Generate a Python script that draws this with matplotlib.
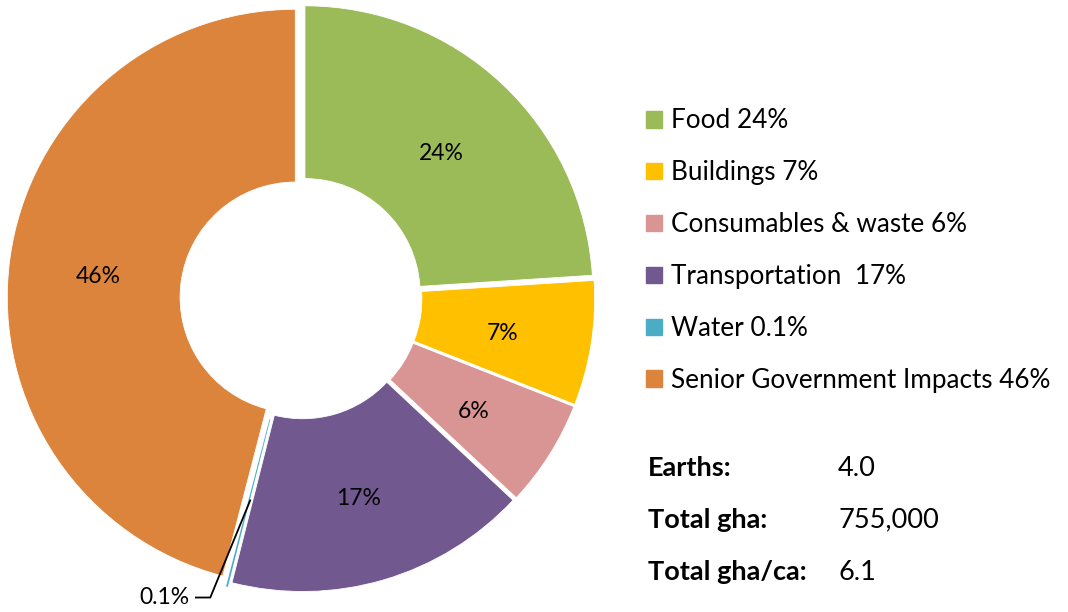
import matplotlib.pyplot as plt
import numpy as np

plt.rcParams["font.family"] = ["Lato", "DejaVu Sans"]

categories = ["Food", "Buildings", "Consumables & waste", "Transportation",
              "Water", "Senior Government Impacts"]
shares = [24, 7, 6, 17, 0.1, 46]
legend_labels = ["Food 24%", "Buildings 7%", "Consumables & waste 6%",
                 "Transportation  17%", "Water 0.1%",
                 "Senior Government Impacts 46%"]
colors = ["#9BBB59", "#FFC000", "#D99594", "#71588F", "#4BACC6", "#DD843C"]

stat_names = ["Earths:", "Total gha:", "Total gha/ca:"]
stat_values = ["4.0", "755,000", "6.1"]

W, H = 1068, 612
fig = plt.figure(figsize=(W / 100, H / 100), dpi=100)

# donut centre ~ (301, 314) px from bottom-left, radius ~ 288 px
R_px = 288
lim = 1.06
cx, cy = 301, 314
side = 2 * lim * R_px
ax = fig.add_axes([(cx - side / 2) / W, (cy - side / 2) / H, side / W, side / H])

wedges, _ = ax.pie(
    shares,
    colors=colors,
    startangle=90,
    counterclock=False,
    explode=[0.02, 0.02, 0.02, 0.02, 0.035, 0.02],
    radius=1.0,
    wedgeprops=dict(width=0.6, edgecolor="white", linewidth=0.6),
)
# the tiny water slice would vanish under a white outline
wedges[4].set_linewidth(0)
ax.set_xlim(-lim, lim)
ax.set_ylim(-lim, lim)
ax.set_aspect("equal")
ax.axis("off")

# percentage labels in the middle of the ring
for w, share in zip(wedges, shares):
    mid = np.deg2rad((w.theta1 + w.theta2) / 2)
    x, y = 0.71 * np.cos(mid), 0.71 * np.sin(mid) - 0.015
    label = f"{share:g}%"
    if share < 1:
        # small slice: label outside with a leader line
        tx, ty = -0.475, -1.04
        ax.text(tx, ty, label, ha="center", va="center", fontsize=16.5,
                clip_on=False)
        ax.plot([tx + 0.11, tx + 0.16, x], [ty, ty, y], color="black",
                lw=1.3, clip_on=False)
    else:
        ax.text(x, y, label, ha="center", va="center", fontsize=16.5)

# legend on the right
handles = [plt.Rectangle((0, 0), 1, 1, color=c) for c in colors]
fig.legend(handles, legend_labels, loc="upper left",
           bbox_to_anchor=(636 / W, 1 - 98 / H), frameon=False,
           fontsize=18.8, handlelength=0.6, handleheight=0.6,
           handletextpad=0.35, labelspacing=1.03, borderaxespad=0)

# footprint summary
for i, (name, val) in enumerate(zip(stat_names, stat_values)):
    y = 1 - (468 + i * 52) / H
    fig.text(648 / W, y, name, fontsize=19.5, fontweight="bold", va="center")
    fig.text(838 / W, y, val, fontsize=19.5, va="center")

fig.savefig("out.png", dpi=100)
